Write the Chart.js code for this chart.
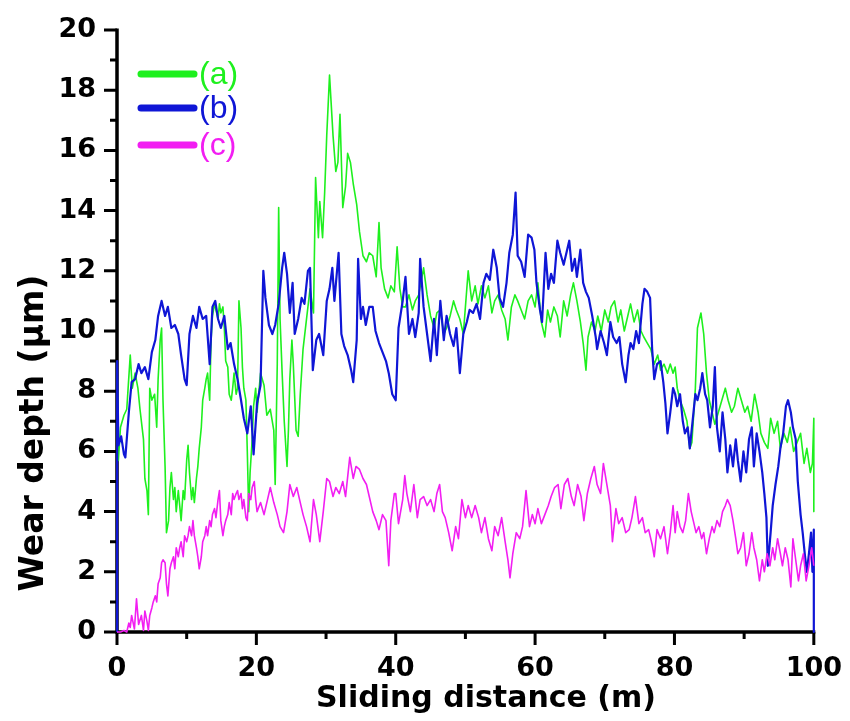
<!DOCTYPE html>
<html>
<head>
<meta charset="utf-8">
<title>Wear depth vs sliding distance</title>
<script src="https://cdn.jsdelivr.net/npm/chart.js@4/dist/chart.umd.min.js"></script>
<style>
  html, body { margin: 0; padding: 0; background: #fff; }
  canvas { display: block; }
</style>
</head>
<body>
<canvas id="wear" width="850" height="721"></canvas>
<script>
// Series (a): sliding distance (m) and wear depth (µm)
const aDist = [0,0.2,0.5,1.0,1.4,1.9,2.2,2.6,3.0,3.3,3.6,3.8,4.0,4.3,4.5,4.7,5.0,5.4,5.7,5.9,6.2,6.4,6.6,6.9,7.1,7.4,7.6,7.8,8.1,8.3,8.5,8.8,9.0,9.2,9.5,9.7,10.0,10.2,10.4,10.7,10.9,11.1,11.4,11.6,11.8,12.1,12.3,12.6,12.8,13.0,13.3,13.5,13.7,14.0,14.2,14.5,14.7,14.9,15.2,15.4,15.6,15.9,16.1,16.4,16.6,16.8,17.1,17.3,17.5,17.8,18.0,18.2,18.5,18.7,18.9,19.1,19.4,19.6,19.9,20.1,20.6,21.1,21.5,22.0,22.5,22.7,23.0,23.2,23.4,23.7,24.0,24.4,24.6,24.8,25.1,25.3,25.7,26.0,26.3,26.7,27.2,27.7,28.2,28.5,28.9,29.1,29.5,29.8,30.1,30.5,31.0,31.4,31.7,32.0,32.4,32.8,33.1,33.5,33.9,34.4,34.8,35.3,35.8,36.2,36.7,37.2,37.6,37.9,38.4,38.9,39.3,39.8,40.2,40.6,41.0,41.4,41.9,42.4,42.8,43.3,44.0,44.5,45.0,45.5,45.9,46.4,46.9,47.3,47.8,48.3,48.7,49.2,49.7,50.4,50.9,51.4,51.8,52.3,52.8,53.3,53.8,54.2,54.7,55.2,55.7,56.1,56.6,57.1,57.5,58.0,58.5,59.0,59.5,60.0,60.4,60.9,61.4,61.8,62.2,62.7,63.2,63.6,64.1,64.6,65.1,65.5,66.0,66.5,66.9,67.3,67.6,68.1,68.6,69.0,69.5,70.0,70.5,70.9,71.4,71.9,72.3,72.8,73.3,73.7,74.2,74.7,75.2,75.6,76.1,76.6,77.1,77.6,78.0,78.5,79.0,79.4,79.8,80.1,80.4,80.8,81.3,81.8,82.2,82.5,83.0,83.3,83.8,84.2,84.6,85.0,85.4,85.8,86.3,86.8,87.3,87.7,88.2,88.6,89.1,89.6,90.1,90.5,91.0,91.5,92.0,92.4,92.9,93.4,93.8,94.3,94.8,95.2,95.7,96.2,96.6,97.1,97.6,98.1,98.6,99.0,99.5,99.8,100,100];
const aDepth = [9.0,5.7,6.8,7.2,7.4,9.2,8.1,8.6,8.1,7.4,6.8,6.4,5.1,4.7,3.9,8.1,7.7,7.9,6.8,8.4,9.7,10.1,7.7,5.5,3.3,3.7,4.8,5.3,4.4,4.8,4.0,4.7,4.2,3.7,4.7,4.4,5.7,6.2,5.3,4.4,4.8,4.3,5.1,5.5,6.1,6.8,7.7,8.1,8.4,8.6,7.7,9.7,10.5,10.9,10.7,10.4,10.9,10.6,10.8,10.1,9.0,8.8,7.9,7.7,8.1,8.6,7.9,8.1,11.0,10.1,8.8,8.1,7.7,6.0,4.0,5.3,6.4,7.5,8.1,7.3,8.6,8.2,7.2,7.4,6.7,4.9,8.9,14.1,10.4,8.6,7.0,5.5,6.7,8.4,9.7,8.9,6.7,6.5,7.9,9.4,10.4,11.4,10.6,15.1,13.1,14.3,13.1,14.6,16.5,18.5,16.5,15.3,15.6,17.2,14.1,14.8,15.9,15.6,14.9,14.2,13.3,12.5,12.3,12.6,12.5,11.8,13.6,12.1,11.4,11.1,11.5,11.3,12.8,11.4,10.8,10.8,11.2,10.7,11.0,11.2,12.1,11.2,10.5,10.1,10.6,10.7,9.9,10.1,10.5,11.0,10.7,10.4,9.9,12.0,11.0,11.5,10.9,11.5,11.1,11.5,10.6,11.0,11.2,10.7,10.4,9.7,10.8,11.2,11.0,10.7,10.4,11.0,11.2,10.8,11.6,10.3,9.8,10.7,10.3,10.8,10.5,9.8,11.0,10.5,11.2,11.6,11.0,10.3,9.6,8.7,9.8,10.3,10.0,10.5,10.0,10.7,10.3,10.8,11.0,10.3,10.7,10.0,10.5,10.9,10.3,10.7,10.0,9.8,9.6,9.4,8.9,9.2,8.7,8.9,8.6,8.9,8.6,8.8,8.1,7.7,7.4,7.0,6.1,6.3,8.1,10.1,10.6,9.9,8.6,7.7,7.3,6.9,7.3,7.7,8.1,7.7,7.3,7.5,8.1,7.7,7.3,7.5,7.0,7.9,7.3,6.6,6.3,6.1,7.1,6.6,7.0,6.1,6.6,6.3,6.8,6.0,6.3,6.6,5.6,6.1,5.3,5.6,7.1,4.0];

// Series (b)
const bDist = [0,0.02,0.2,0.6,1.0,1.2,1.7,2.1,2.6,3.1,3.5,4.0,4.5,5.0,5.5,5.9,6.4,6.9,7.3,7.8,8.3,8.8,9.2,9.7,10.0,10.4,10.9,11.4,11.8,12.3,12.8,13.3,13.7,14.1,14.5,14.9,15.4,15.9,16.3,16.8,17.3,17.8,18.2,18.7,19.2,19.6,20.1,20.6,21.0,21.3,21.8,22.3,22.7,23.2,23.7,24.0,24.4,24.8,25.2,25.5,26.0,26.5,26.9,27.4,27.7,28.1,28.6,29.0,29.6,30.1,30.5,30.9,31.2,31.8,32.2,32.6,33.1,33.6,33.9,34.4,34.6,35.0,35.3,35.7,36.2,36.7,37.1,37.6,38.1,38.6,39.0,39.5,40.0,40.4,41.0,41.4,41.9,42.4,42.8,43.3,43.5,44.0,44.5,45.0,45.5,45.9,46.4,46.9,47.3,47.8,48.3,48.7,49.2,49.7,50.2,50.6,51.1,51.6,52.1,52.6,53.0,53.5,54.0,54.5,54.9,55.4,55.9,56.3,56.8,57.2,57.5,58.0,58.5,59.0,59.5,59.9,60.2,60.7,61.0,61.5,61.9,62.3,62.7,63.2,63.6,64.1,64.6,64.9,65.3,65.7,66.0,66.5,66.9,67.3,67.7,68.2,68.7,68.9,69.4,69.9,70.3,70.8,71.2,71.7,72.1,72.5,73.0,73.4,73.7,74.1,74.5,74.9,75.4,75.7,76.1,76.5,76.8,77.1,77.5,78.0,78.4,78.7,79.0,79.4,79.8,80.1,80.4,80.8,81.2,81.5,81.9,82.2,82.6,83.0,83.3,83.7,84.0,84.4,84.7,85.1,85.5,85.8,86.1,86.5,86.9,87.3,87.6,88.0,88.4,88.8,89.1,89.5,89.9,90.3,90.7,91.1,91.4,91.8,92.2,92.6,92.9,93.2,93.4,93.8,94.1,94.5,94.9,95.2,95.6,96.0,96.3,96.7,97.0,97.4,97.7,98.1,98.4,98.7,99.0,99.3,99.6,99.8,100,100];
const bDepth = [0,9.0,6.2,6.5,5.9,5.8,7.3,8.3,8.4,8.9,8.6,8.8,8.4,9.3,9.7,10.5,11.0,10.5,10.8,10.1,10.2,9.9,9.2,8.4,8.2,9.9,10.5,10.1,10.8,10.4,10.5,8.9,10.8,11.0,10.4,10.1,10.5,9.4,9.6,8.9,8.4,7.7,7.1,6.6,7.5,5.9,7.6,8.2,12.0,11.1,10.2,9.9,10.2,10.9,12.1,12.6,11.9,10.6,11.6,9.9,10.4,11.1,10.9,12.0,12.1,8.7,9.7,9.9,9.2,11.0,11.4,12.1,11.0,12.6,9.9,9.5,9.2,8.7,8.3,9.7,12.4,10.4,10.8,10.2,10.8,10.8,10.0,9.6,9.3,9.0,8.6,7.9,7.7,10.1,11.0,11.8,9.9,10.4,9.8,10.6,12.4,10.8,9.9,9.0,10.4,9.2,11.0,9.7,10.5,9.9,9.5,10.1,8.6,9.9,10.3,10.7,10.6,10.9,10.4,11.6,11.9,11.7,12.7,12.1,11.1,10.8,11.6,12.6,13.2,14.6,12.5,12.3,11.8,13.2,13.1,12.7,11.6,10.7,10.3,12.6,11.4,11.9,11.6,13.0,12.6,12.2,12.7,13.0,12.0,12.4,11.8,12.7,11.6,11.3,11.1,10.5,9.8,9.4,10.0,9.6,9.2,10.3,9.8,9.6,9.8,8.9,8.3,9.2,9.6,9.4,10.0,9.6,10.9,11.4,11.3,11.1,9.4,8.4,8.9,9.0,8.3,7.6,6.6,7.3,8.1,7.9,7.5,7.9,7.0,6.6,6.8,6.1,7.0,7.9,7.7,8.1,8.6,7.9,7.7,6.8,7.5,8.8,6.8,6.0,7.3,6.4,5.3,6.2,5.5,6.4,5.7,5.0,6.0,5.3,6.4,6.8,5.5,6.6,6.0,5.3,4.6,3.8,2.2,3.3,4.2,4.9,5.5,6.1,6.6,7.5,7.7,7.3,6.8,6.4,5.0,3.9,3.3,2.6,2.0,2.6,3.3,2.0,3.4,0];

// Series (c)
const cDist = [0,0.5,1.0,1.4,1.7,1.9,2.1,2.5,2.8,3.1,3.5,3.8,4.0,4.3,4.5,4.7,5.0,5.2,5.5,5.7,5.9,6.2,6.4,6.6,6.9,7.1,7.3,7.6,7.8,8.1,8.3,8.5,8.8,9.0,9.2,9.5,9.7,10.0,10.2,10.4,10.7,10.9,11.1,11.4,11.6,11.8,12.1,12.3,12.6,12.8,13.0,13.3,13.5,13.7,14.0,14.2,14.5,14.7,14.9,15.2,15.4,15.6,15.9,16.1,16.4,16.6,16.8,17.1,17.3,17.5,17.8,18.0,18.2,18.5,18.7,18.9,19.2,19.4,19.7,19.9,20.1,20.6,21.1,21.5,22.0,22.5,23.0,23.4,23.9,24.4,24.8,25.3,25.8,26.3,26.7,27.2,27.7,28.2,28.6,29.1,29.6,30.1,30.5,31.0,31.4,31.9,32.4,32.8,33.4,33.9,34.3,34.8,35.3,35.8,36.2,36.7,37.2,37.6,38.1,38.6,39.0,39.3,39.8,40.0,40.4,41.0,41.3,41.6,42.1,42.6,43.1,43.5,44.0,44.5,45.0,45.5,45.9,46.3,46.7,47.1,47.6,48.1,48.6,49.0,49.5,50.0,50.4,50.9,51.4,51.9,52.3,52.8,53.3,53.8,54.2,54.7,55.2,55.7,56.1,56.4,56.8,57.3,57.8,58.2,58.7,59.2,59.6,60.0,60.4,60.9,61.4,61.9,62.3,62.8,63.3,63.7,64.2,64.7,65.2,65.6,66.1,66.6,67.0,67.5,68.0,68.5,68.9,69.4,69.8,70.3,70.8,71.1,71.6,72.0,72.5,73.0,73.5,73.9,74.4,74.9,75.4,75.8,76.3,76.8,77.1,77.5,78.0,78.5,79.0,79.4,79.8,80.1,80.4,80.8,81.2,81.6,82.0,82.4,82.7,83.1,83.5,83.9,84.2,84.6,85.0,85.4,85.7,86.1,86.5,86.9,87.3,87.6,88.0,88.4,88.8,89.1,89.5,89.9,90.3,90.7,91.1,91.4,91.8,92.2,92.6,92.9,93.3,93.7,94.1,94.4,94.8,95.2,95.5,95.9,96.3,96.7,97.0,97.4,97.8,98.1,98.5,98.9,99.3,99.7,100];
const cDepth = [0,0,0.05,0,0.3,0.15,0.55,0.1,1.1,0.25,0.55,0.05,0.7,0.35,0.05,0.55,0.8,1.0,1.2,1.0,1.6,1.8,2.3,2.4,2.3,1.6,1.2,2.1,2.3,2.5,2.1,2.8,2.5,2.8,3.0,2.5,3.2,3.0,3.2,3.5,3.2,3.7,3.2,2.8,2.5,2.1,2.5,3.0,3.2,3.5,3.2,3.7,3.5,3.9,4.1,3.8,4.4,4.7,3.7,3.2,3.5,3.7,3.9,4.3,3.9,4.6,4.4,4.6,4.7,4.4,4.6,4.1,4.4,3.8,3.7,4.6,4.4,4.8,5.0,4.4,4.0,4.3,3.9,4.3,4.8,4.3,3.9,3.5,3.3,4.0,4.9,4.5,4.8,4.3,3.9,3.5,3.0,4.4,3.9,3.0,4.0,5.1,5.0,4.5,4.8,4.6,5.0,4.5,5.8,5.1,5.5,5.4,5.1,4.9,4.5,4.0,3.7,3.4,3.9,3.7,2.2,3.7,4.6,4.6,3.6,4.4,5.2,4.6,4.0,4.9,3.8,4.4,4.5,4.2,4.4,4.0,4.6,4.9,4.0,3.8,3.3,2.7,3.5,3.1,4.4,3.8,4.2,3.8,4.2,3.8,3.3,3.8,3.1,2.7,3.5,3.2,3.8,3.0,2.4,1.8,2.6,3.3,3.1,3.5,4.7,3.5,3.9,3.6,4.1,3.6,3.9,4.2,4.5,4.8,4.9,4.1,4.9,5.1,4.5,4.2,4.9,4.5,3.7,4.6,5.1,5.5,4.9,4.6,5.6,4.9,4.2,3.0,4.1,3.6,3.8,3.3,3.4,3.8,4.5,3.6,3.8,3.3,3.4,2.9,2.5,3.4,3.1,3.5,2.6,3.3,4.2,3.3,4.0,3.5,3.3,3.7,4.6,4.0,3.7,3.3,3.5,3.1,3.3,2.6,3.1,3.5,3.3,3.7,3.5,4.0,4.2,4.4,4.2,3.7,3.1,2.6,2.8,3.3,2.2,2.6,3.3,2.8,2.4,1.7,2.4,2.0,2.6,2.2,2.8,2.4,3.1,2.6,2.2,2.8,2.4,1.5,3.1,2.4,1.7,2.2,2.6,1.7,2.2,2.8,2.2];

// Axis ranges and tick labels
const xLabels = [0, 20, 40, 60, 80, 100];
const yLabels = [0, 2, 4, 6, 8, 10, 12, 14, 16, 18, 20];
const xMinor = [10, 30, 50, 70, 90];
const yMinor = [1, 3, 5, 7, 9, 11, 13, 15, 17, 19];

const seriesNames = ['(a)', '(b)', '(c)'];
const seriesColors = ['#1ef01e', '#0f16d6', '#f21ef2'];

const toPoints = (xs, ys) => xs.map((x, i) => ({ x: x, y: ys[i] }));

const boldFont = 'DejaVu Sans';

// Axis lines plus long/short tick marks, drawn under the curves
const axisFrame = {
  id: 'axisFrame',
  beforeDatasetsDraw(chart) {
    const { ctx, chartArea: a, scales: { x, y } } = chart;
    ctx.save();
    ctx.strokeStyle = '#000';
    ctx.lineCap = 'butt';
    ctx.lineWidth = 3;
    ctx.beginPath();
    xLabels.forEach(v => { const p = x.getPixelForValue(v); ctx.moveTo(p, a.bottom); ctx.lineTo(p, a.bottom + 13); });
    xMinor.forEach(v => { const p = x.getPixelForValue(v); ctx.moveTo(p, a.bottom); ctx.lineTo(p, a.bottom + 7); });
    yLabels.forEach(v => { const p = y.getPixelForValue(v); ctx.moveTo(a.left, p); ctx.lineTo(a.left - 13, p); });
    yMinor.forEach(v => { const p = y.getPixelForValue(v); ctx.moveTo(a.left, p); ctx.lineTo(a.left - 7, p); });
    ctx.stroke();
    ctx.lineWidth = 3.5;
    ctx.beginPath();
    ctx.moveTo(a.left, y.getPixelForValue(20) - 1.5);
    ctx.lineTo(a.left, a.bottom);
    ctx.lineTo(x.getPixelForValue(100) + 1.5, a.bottom);
    ctx.stroke();
    ctx.restore();
  }
};

// Axis titles and the in-plot key
const annotations = {
  id: 'annotations',
  afterDatasetsDraw(chart) {
    const { ctx, chartArea: a } = chart;
    ctx.save();
    ctx.fillStyle = '#000';
    ctx.textBaseline = 'middle';
    ctx.textAlign = 'center';
    ctx.font = 'bold 30px "' + boldFont + '"';
    ctx.fillText('Sliding distance (m)', 486, 699);
    ctx.save();
    ctx.translate(34, 433);
    ctx.rotate(-Math.PI / 2);
    ctx.font = 'bold 33px "' + boldFont + '"';
    ctx.fillText('Wear depth (\u03bcm)', 0, 0);
    ctx.restore();

    const rows = [74, 108, 145];
    ctx.lineCap = 'round';
    ctx.lineWidth = 7;
    ctx.textAlign = 'left';
    ctx.font = '32px "Liberation Sans"';
    seriesNames.forEach((name, i) => {
      ctx.strokeStyle = seriesColors[i];
      ctx.beginPath();
      ctx.moveTo(141, rows[i]);
      ctx.lineTo(194, rows[i]);
      ctx.stroke();
      ctx.fillStyle = seriesColors[i];
      ctx.fillText(name, 199, rows[i] + 1);
    });
    ctx.restore();
  }
};

const tickFont = { family: boldFont, weight: 'bold', size: 27 };

new Chart(document.getElementById('wear'), {
  type: 'line',
  data: {
    datasets: [
      { label: seriesNames[0], data: toPoints(aDist, aDepth), borderColor: seriesColors[0], borderWidth: 1.6, order: 3 },
      { label: seriesNames[1], data: toPoints(bDist, bDepth), borderColor: seriesColors[1], borderWidth: 2.2, order: 2 },
      { label: seriesNames[2], data: toPoints(cDist, cDepth), borderColor: seriesColors[2], borderWidth: 1.6, order: 1 }
    ]
  },
  options: {
    responsive: false,
    devicePixelRatio: 1,
    animation: false,
    parsing: true,
    elements: {
      point: { radius: 0 },
      line: { tension: 0, borderJoinStyle: 'round', fill: false }
    },
    datasets: { line: { clip: false } },
    layout: { padding: { left: 0, right: 30, top: 30, bottom: 0 } },
    plugins: { legend: { display: false }, tooltip: { enabled: false } },
    scales: {
      x: {
        type: 'linear', min: 0, max: 100,
        border: { display: false },
        grid: { drawOnChartArea: false, drawTicks: true, tickLength: 13, color: 'rgba(0,0,0,0)' },
        ticks: { stepSize: 20, maxRotation: 0, autoSkip: false, padding: 8, color: '#000', font: tickFont },
        afterFit(s) { s.height = 89; }
      },
      y: {
        type: 'linear', min: 0, max: 20,
        border: { display: false },
        grid: { drawOnChartArea: false, drawTicks: true, tickLength: 13, color: 'rgba(0,0,0,0)' },
        ticks: { stepSize: 2, autoSkip: false, padding: 8, color: '#000', font: tickFont },
        afterFit(s) { s.width = 117; }
      }
    }
  },
  plugins: [axisFrame, annotations]
});
</script>
</body>
</html>
